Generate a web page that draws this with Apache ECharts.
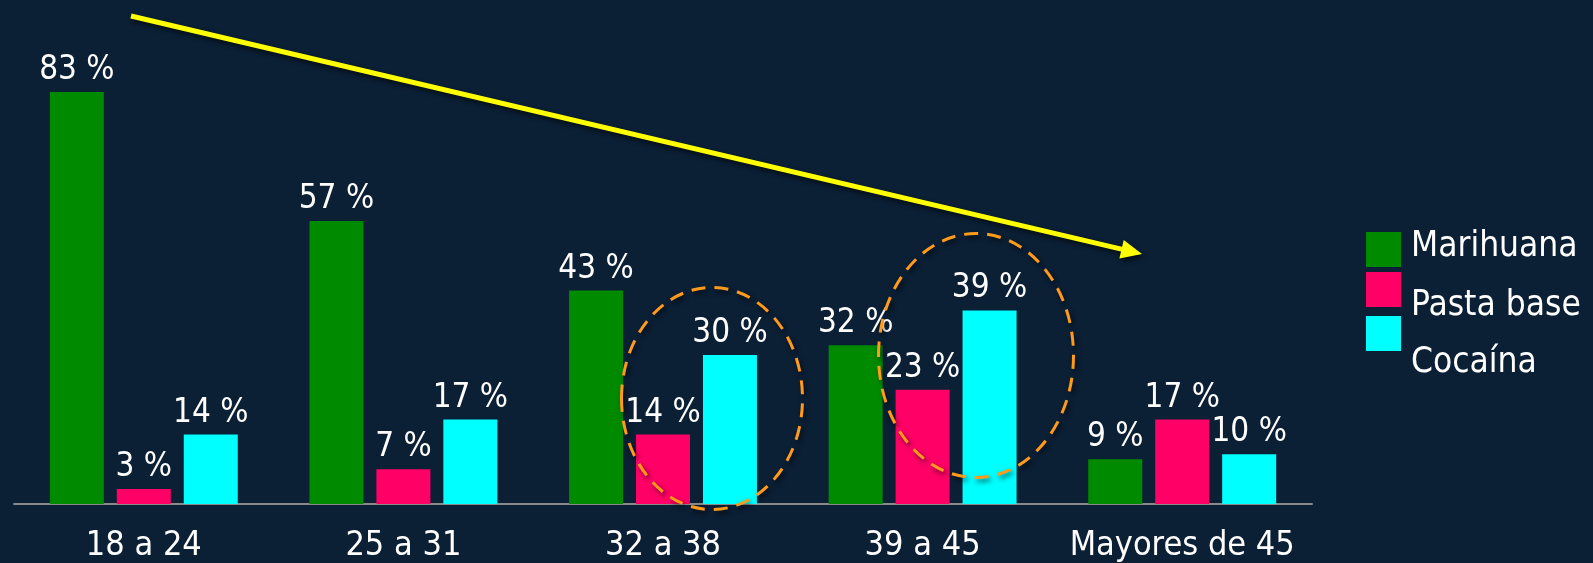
<!DOCTYPE html>
<html><head><meta charset="utf-8">
<script src="https://cdn.jsdelivr.net/npm/echarts@6/dist/echarts.min.js"></script>
<style>html,body{margin:0;padding:0;background:#0b1f35;}#c{width:1593px;height:563px;}</style>
</head><body><div id="c"></div>
<script>
const categories = ['18 a 24', '25 a 31', '32 a 38', '39 a 45', 'Mayores de 45'];
const seriesNames = ['Marihuana', 'Pasta base', 'Cocaína'];
const marihuana = [83, 57, 43, 32, 9];
const pastaBase = [3, 7, 14, 23, 17];
const cocaina = [14, 17, 30, 39, 10];
const colors = ['#008a00', '#ff0066', '#00ffff'];

const FONT = "'DejaVu Sans Condensed', 'DejaVu Sans', sans-serif";
const chart = echarts.init(document.getElementById('c'), null, { renderer: 'canvas' });

function barSeries(name, data, color) {
  return {
    name: name, type: 'bar', data: data,
    barWidth: 54, barGap: '24%',
    itemStyle: { color: color },
    label: {
      show: true, position: 'top', distance: 5,
      formatter: '{c} %', color: '#ffffff', fontSize: 33, fontFamily: FONT
    }
  };
}

// legend: icons stacked tightly, texts spaced wider (as in the original slide)
const legendIconTop = [229, 270.5, 316];
const legendTextShift = [-3, 16, 29];
function legendItem(i) {
  const s = legendTextShift[i];
  let lh, fmt, top;
  if (s < 0) {
    lh = -2 * s; fmt = function (n) { return n + '\n'; }; top = legendIconTop[i];
  } else {
    lh = 2 * s; fmt = function (n) { return '\n' + n; };
    const c = legendIconTop[i] + 17.5;
    top = Math.min(legendIconTop[i], c - lh);
  }
  return {
    orient: 'vertical', left: 1366, top: top, padding: 0,
    itemWidth: 35, itemHeight: 35, icon: 'rect',
    data: [seriesNames[i]],
    formatter: fmt,
    textStyle: { color: '#ffffff', fontSize: 35, fontFamily: FONT, lineHeight: lh, padding: [0, 0, 0, 5] }
  };
}

// arrow geometry (annotation)
const aStart = [131, 16], aTip = [1142, 254];
const dx = aTip[0] - aStart[0], dy = aTip[1] - aStart[1];
const len = Math.sqrt(dx * dx + dy * dy);
const ux = dx / len, uy = dy / len, nx = -uy, ny = ux;
const headLen = 21, headHalf = 9.5;
const base = [aTip[0] - ux * headLen, aTip[1] - uy * headLen];
const shadow = { shadowColor: 'rgba(0,0,0,0.6)', shadowBlur: 5, shadowOffsetX: 2, shadowOffsetY: 3 };

chart.setOption({
  backgroundColor: '#0b1f35',
  animation: false,
  grid: { left: 14, right: 281, top: 7.6, bottom: 58.7, containLabel: false },
  legend: [legendItem(0), legendItem(1), legendItem(2)],
  xAxis: {
    type: 'category', data: categories,
    axisLine: { show: true, lineStyle: { color: '#8a8a8a', width: 2 } },
    axisTick: { show: false },
    axisLabel: { color: '#ffffff', fontSize: 34, fontFamily: FONT, margin: 25, interval: 0 }
  },
  yAxis: {
    type: 'value', min: 0, max: 100, show: false,
    splitLine: { show: false }
  },
  series: [
    barSeries(seriesNames[0], marihuana, colors[0]),
    barSeries(seriesNames[1], pastaBase, colors[1]),
    barSeries(seriesNames[2], cocaina, colors[2])
  ],
  graphic: [
    {
      type: 'line', z: 100,
      shape: { x1: aStart[0], y1: aStart[1], x2: base[0] + ux * 2, y2: base[1] + uy * 2 },
      style: Object.assign({ stroke: '#ffff00', lineWidth: 5 }, shadow)
    },
    {
      type: 'polygon', z: 100,
      shape: { points: [aTip, [base[0] + nx * headHalf, base[1] + ny * headHalf], [base[0] - nx * headHalf, base[1] - ny * headHalf]] },
      style: Object.assign({ fill: '#ffff00' }, shadow)
    },
    {
      type: 'ellipse', z: 100,
      shape: { cx: 712, cy: 398.5, rx: 90.5, ry: 111 },
      style: Object.assign({ fill: 'none', stroke: '#ff9a1a', lineWidth: 3, lineDash: [14, 9] }, shadow)
    },
    {
      type: 'ellipse', z: 100,
      shape: { cx: 976, cy: 355.5, rx: 97.5, ry: 122 },
      style: Object.assign({ fill: 'none', stroke: '#ff9a1a', lineWidth: 3, lineDash: [14, 9] }, shadow)
    }
  ]
});
</script></body></html>
